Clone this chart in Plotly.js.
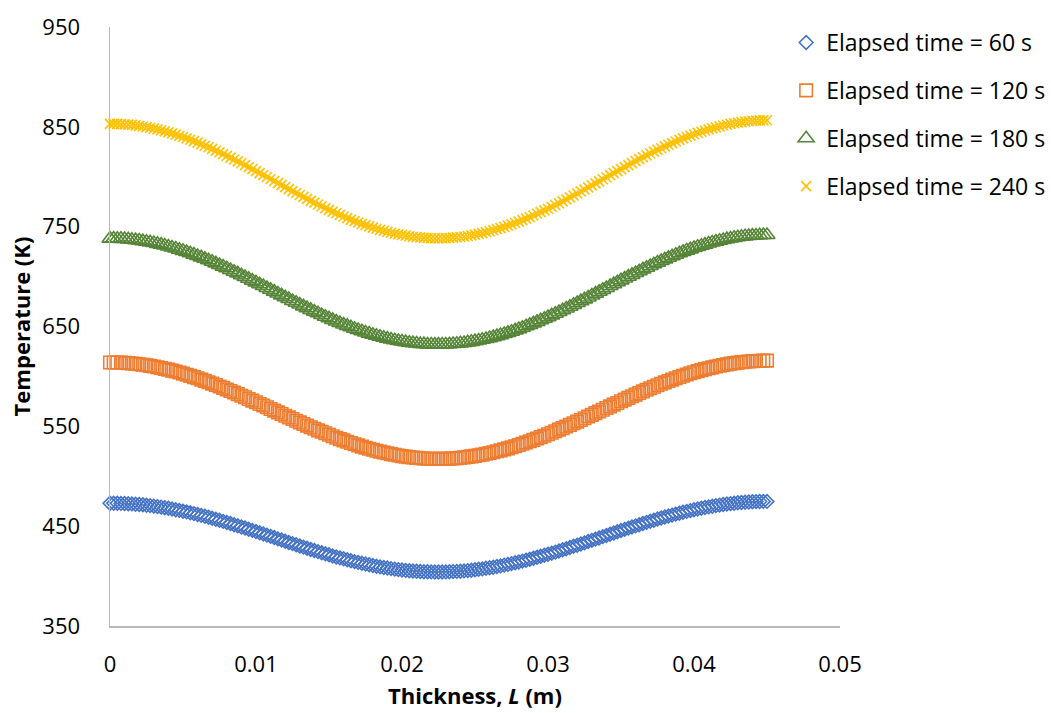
<!DOCTYPE html>
<html>
<head>
<meta charset="utf-8">
<script src="https://cdn.plot.ly/plotly-3.0.1.min.js"></script>
<style>
html,body{margin:0;padding:0;background:#ffffff;}
#chart{width:1051px;height:713px;}
</style>
</head>
<body>
<div id="chart"></div>
<script>
// Thickness positions (m)
const thickness = [
0,0.00025,0.0005,0.00075,0.001,0.00125,0.0015,0.00175,0.002,0.00225,
0.0025,0.00275,0.003,0.00325,0.0035,0.00375,0.004,0.00425,0.0045,0.00475,
0.005,0.00525,0.0055,0.00575,0.006,0.00625,0.0065,0.00675,0.007,0.00725,
0.0075,0.00775,0.008,0.00825,0.0085,0.00875,0.009,0.00925,0.0095,0.00975,
0.01,0.01025,0.0105,0.01075,0.011,0.01125,0.0115,0.01175,0.012,0.01225,
0.0125,0.01275,0.013,0.01325,0.0135,0.01375,0.014,0.01425,0.0145,0.01475,
0.015,0.01525,0.0155,0.01575,0.016,0.01625,0.0165,0.01675,0.017,0.01725,
0.0175,0.01775,0.018,0.01825,0.0185,0.01875,0.019,0.01925,0.0195,0.01975,
0.02,0.02025,0.0205,0.02075,0.021,0.02125,0.0215,0.02175,0.022,0.02225,
0.0225,0.02275,0.023,0.02325,0.0235,0.02375,0.024,0.02425,0.0245,0.02475,
0.025,0.02525,0.0255,0.02575,0.026,0.02625,0.0265,0.02675,0.027,0.02725,
0.0275,0.02775,0.028,0.02825,0.0285,0.02875,0.029,0.02925,0.0295,0.02975,
0.03,0.03025,0.0305,0.03075,0.031,0.03125,0.0315,0.03175,0.032,0.03225,
0.0325,0.03275,0.033,0.03325,0.0335,0.03375,0.034,0.03425,0.0345,0.03475,
0.035,0.03525,0.0355,0.03575,0.036,0.03625,0.0365,0.03675,0.037,0.03725,
0.0375,0.03775,0.038,0.03825,0.0385,0.03875,0.039,0.03925,0.0395,0.03975,
0.04,0.04025,0.0405,0.04075,0.041,0.04125,0.0415,0.04175,0.042,0.04225,
0.0425,0.04275,0.043,0.04325,0.0435,0.04375,0.044,0.04425,0.0445,0.04475,
0.045
];

// Temperatures (K), elapsed time = 60 s
const temp60 = [
473.0,473.0,472.9,472.8,472.7,472.5,472.3,472.0,471.7,471.4,
471.0,470.6,470.1,469.6,469.1,468.5,467.9,467.2,466.5,465.8,
465.0,464.3,463.4,462.6,461.7,460.8,459.9,458.9,457.9,456.9,
455.9,454.8,453.7,452.6,451.5,450.4,449.2,448.1,446.9,445.8,
444.6,443.4,442.2,441.0,439.8,438.6,437.3,436.1,434.9,433.7,
432.5,431.4,430.2,429.0,427.9,426.7,425.6,424.5,423.4,422.3,
421.3,420.2,419.2,418.2,417.3,416.3,415.4,414.5,413.7,412.9,
412.1,411.3,410.6,409.9,409.2,408.6,408.1,407.5,407.0,406.5,
406.1,405.7,405.4,405.1,404.8,404.6,404.4,404.3,404.2,404.1,
404.1,404.1,404.2,404.3,404.5,404.7,404.9,405.2,405.5,405.9,
406.3,406.8,407.2,407.8,408.3,408.9,409.6,410.2,411.0,411.7,
412.5,413.3,414.1,415.0,415.9,416.8,417.8,418.8,419.8,420.8,
421.9,422.9,424.0,425.1,426.3,427.4,428.6,429.8,430.9,432.1,
433.3,434.6,435.8,437.0,438.2,439.5,440.7,441.9,443.1,444.4,
445.6,446.8,448.0,449.2,450.3,451.5,452.6,453.8,454.9,456.0,
457.1,458.1,459.1,460.1,461.1,462.1,463.0,463.9,464.8,465.6,
466.4,467.2,468.0,468.7,469.3,470.0,470.6,471.1,471.7,472.2,
472.6,473.0,473.4,473.7,474.0,474.2,474.4,474.6,474.7,474.8,474.8
];

// Temperatures (K), elapsed time = 120 s
const temp120 = [
614.0,614.0,613.9,613.8,613.6,613.3,613.0,612.6,612.2,611.7,
611.2,610.6,609.9,609.2,608.4,607.6,606.8,605.8,604.9,603.9,
602.8,601.7,600.5,599.3,598.1,596.8,595.5,594.2,592.8,591.4,
589.9,588.5,586.9,585.4,583.9,582.3,580.7,579.1,577.4,575.8,
574.1,572.4,570.8,569.1,567.4,565.7,564.0,562.3,560.6,559.0,
557.3,555.6,554.0,552.3,550.7,549.1,547.6,546.0,544.5,543.0,
541.5,540.0,538.6,537.2,535.9,534.6,533.3,532.1,530.9,529.7,
528.6,527.5,526.5,525.6,524.7,523.8,523.0,522.2,521.5,520.8,
520.2,519.7,519.2,518.8,518.4,518.1,517.8,517.6,517.5,517.4,
517.4,517.4,517.5,517.7,517.9,518.2,518.5,518.9,519.4,519.9,
520.4,521.1,521.7,522.5,523.3,524.1,525.0,525.9,526.9,527.9,
529.0,530.1,531.3,532.5,533.8,535.1,536.4,537.8,539.2,540.6,
542.1,543.6,545.1,546.7,548.2,549.8,551.5,553.1,554.7,556.4,
558.1,559.8,561.5,563.2,564.9,566.6,568.3,570.0,571.7,573.4,
575.1,576.8,578.5,580.1,581.8,583.4,585.0,586.6,588.1,589.6,
591.1,592.6,594.0,595.4,596.8,598.1,599.4,600.7,601.9,603.1,
604.2,605.3,606.3,607.3,608.2,609.1,610.0,610.7,611.5,612.1,
612.8,613.3,613.8,614.3,614.7,615.0,615.3,615.5,615.7,615.8,615.8
];

// Temperatures (K), elapsed time = 180 s
const temp180 = [
738.0,738.0,737.9,737.8,737.6,737.3,736.9,736.5,736.1,735.5,
734.9,734.3,733.6,732.8,732.0,731.1,730.1,729.1,728.1,726.9,
725.8,724.6,723.3,722.0,720.6,719.2,717.8,716.3,714.8,713.2,
711.6,710.0,708.3,706.6,704.9,703.2,701.4,699.6,697.8,696.0,
694.2,692.3,690.5,688.6,686.8,684.9,683.0,681.2,679.3,677.5,
675.6,673.8,672.0,670.2,668.4,666.6,664.9,663.2,661.5,659.8,
658.2,656.6,655.0,653.5,652.0,650.6,649.2,647.8,646.5,645.3,
644.0,642.9,641.8,640.7,639.7,638.7,637.8,637.0,636.2,635.5,
634.9,634.3,633.7,633.3,632.9,632.5,632.3,632.0,631.9,631.8,
631.8,631.9,632.0,632.2,632.4,632.7,633.1,633.5,634.1,634.6,
635.3,636.0,636.7,637.5,638.4,639.3,640.3,641.4,642.5,643.6,
644.8,646.1,647.4,648.8,650.2,651.6,653.1,654.6,656.2,657.8,
659.4,661.1,662.8,664.5,666.3,668.0,669.8,671.7,673.5,675.4,
677.2,679.1,681.0,682.9,684.8,686.7,688.6,690.5,692.4,694.3,
696.2,698.1,699.9,701.7,703.6,705.4,707.2,708.9,710.6,712.3,
714.0,715.6,717.2,718.8,720.3,721.8,723.3,724.7,726.0,727.3,
728.6,729.8,730.9,732.0,733.1,734.1,735.0,735.9,736.7,737.5,
738.1,738.8,739.4,739.9,740.3,740.7,741.0,741.2,741.4,741.6,741.6
];

// Temperatures (K), elapsed time = 240 s
const temp240 = [
853.0,853.0,852.9,852.7,852.5,852.2,851.9,851.4,850.9,850.3,
849.7,849.0,848.2,847.4,846.5,845.5,844.5,843.4,842.2,841.0,
839.8,838.5,837.1,835.7,834.2,832.7,831.1,829.5,827.9,826.2,
824.5,822.7,820.9,819.1,817.3,815.4,813.5,811.6,809.6,807.6,
805.7,803.7,801.7,799.7,797.7,795.7,793.6,791.6,789.6,787.6,
785.6,783.7,781.7,779.8,777.8,775.9,774.1,772.2,770.4,768.6,
766.8,765.1,763.4,761.8,760.2,758.6,757.1,755.6,754.2,752.8,
751.5,750.3,749.1,747.9,746.8,745.8,744.8,743.9,743.1,742.3,
741.6,741.0,740.4,739.9,739.5,739.1,738.8,738.6,738.4,738.3,
738.3,738.4,738.5,738.7,739.0,739.3,739.7,740.2,740.7,741.3,
742.0,742.8,743.6,744.5,745.4,746.4,747.5,748.6,749.8,751.0,
752.3,753.7,755.1,756.6,758.1,759.6,761.2,762.9,764.5,766.3,
768.0,769.8,771.7,773.5,775.4,777.3,779.3,781.2,783.2,785.2,
787.2,789.3,791.3,793.4,795.4,797.5,799.5,801.6,803.6,805.6,
807.7,809.7,811.7,813.7,815.6,817.6,819.5,821.4,823.3,825.1,
826.9,828.6,830.4,832.1,833.7,835.3,836.9,838.4,839.8,841.2,
842.6,843.9,845.1,846.3,847.4,848.5,849.5,850.4,851.3,852.1,
852.9,853.6,854.2,854.7,855.2,855.6,856.0,856.2,856.4,856.5,856.6
];

const seriesNames = ['Elapsed time = 60 s','Elapsed time = 120 s','Elapsed time = 180 s','Elapsed time = 240 s'];
const seriesValues = [temp60, temp120, temp180, temp240];
const seriesColors = ['#4472C4','#ED7D31','#568538','#FFC000'];
const seriesSymbols = ['diamond-open','square-open','triangle-up-open','x-thin-open'];
const seriesSizes = [10.5, 12.5, 14, 10];

const FONT = 'Open Sans, Noto Sans, sans-serif';

const traces = seriesValues.map((vals, i) => ({
  type: 'scatter',
  mode: 'markers',
  name: seriesNames[i],
  legendgroup: 'g' + i,
  x: thickness,
  y: vals,
  cliponaxis: false,
  marker: {
    symbol: seriesSymbols[i],
    size: seriesSizes[i],
    color: seriesColors[i],
    line: {color: seriesColors[i], width: 1.6}
  },
  hoverinfo: 'skip'
}));

const layout = {
  width: 1051,
  height: 713,
  margin: {l: 110, r: 211, t: 27, b: 87, pad: 0, autoexpand: false},
  paper_bgcolor: '#ffffff',
  plot_bgcolor: '#ffffff',
  showlegend: true,
  font: {family: FONT, color: '#000000'},
  xaxis: {
    range: [0, 0.05],
    tick0: 0,
    dtick: 0.01,
    showgrid: false,
    zeroline: false,
    showline: true,
    linecolor: '#b8b8b8',
    linewidth: 1.5,
    ticks: '',
    ticklabelstandoff: 18,
    tickfont: {family: FONT, size: 22, color: '#000000'},
    automargin: false,
    title: {
      text: '<b>Thickness, <i>L</i> (m)</b>',
      font: {family: FONT, size: 22, color: '#000000'},
      standoff: 11
    }
  },
  yaxis: {
    range: [350, 950],
    tick0: 350,
    dtick: 100,
    showgrid: false,
    zeroline: false,
    showline: true,
    linecolor: '#b8b8b8',
    linewidth: 1.5,
    ticks: '',
    ticklabelstandoff: 24,
    tickfont: {family: FONT, size: 22, color: '#000000'},
    automargin: false,
    title: {
      text: '<b>Temperature (K)</b>',
      font: {family: FONT, size: 22, color: '#000000'},
      standoff: 5
    }
  },
  legend: {
    xref: 'container',
    yref: 'container',
    x: 0.748,
    xanchor: 'left',
    y: 0.9705,
    yanchor: 'top',
    bgcolor: 'rgba(0,0,0,0)',
    borderwidth: 0,
    font: {family: FONT, size: 23, color: '#000000'},
    traceorder: 'grouped',
    tracegroupgap: 15,
    itemclick: false
  }
};

Plotly.newPlot('chart', traces, layout, {displayModeBar: false, staticPlot: true});
</script>
</body>
</html>
